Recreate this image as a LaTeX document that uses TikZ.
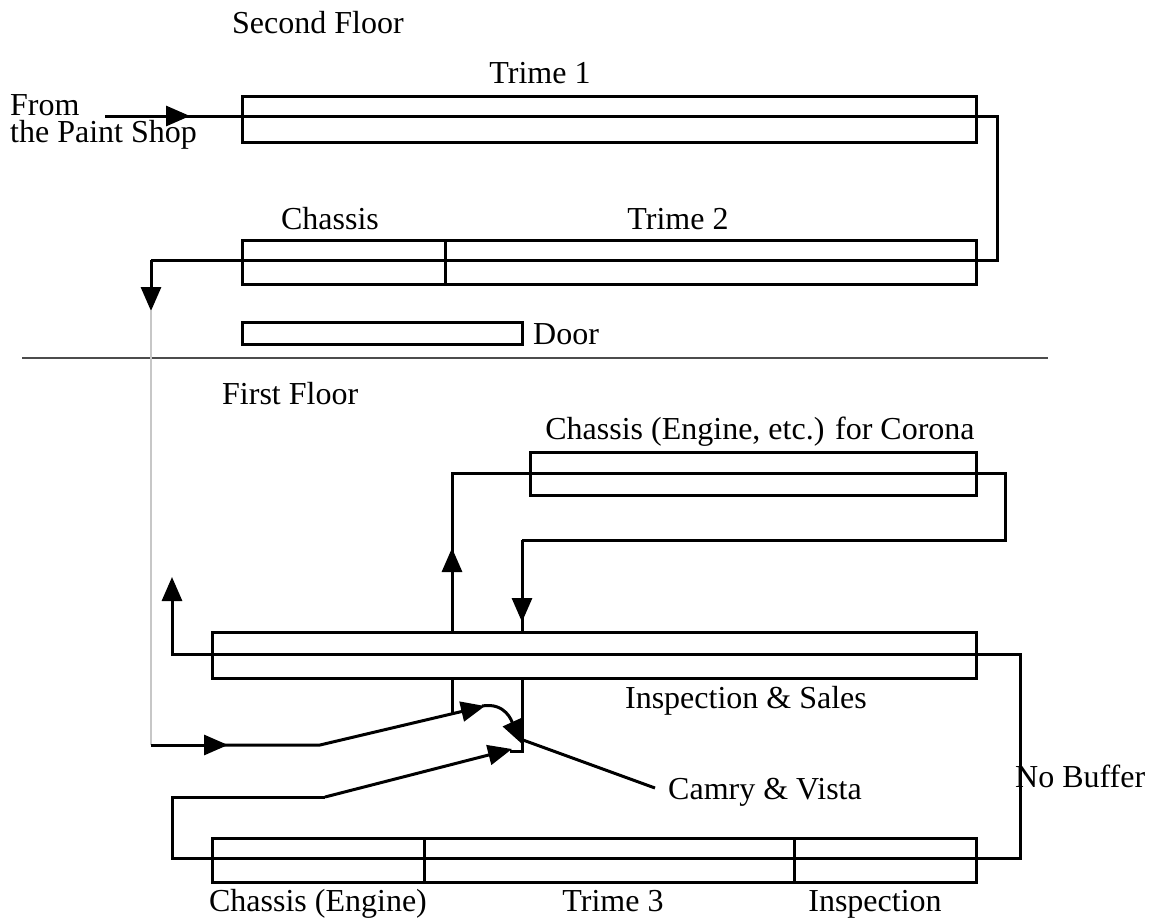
\documentclass[tikz,border=0pt]{standalone}
\usepackage{fontspec}
\setmainfont{Liberation Serif}
\usetikzlibrary{arrows.meta}
\begin{document}
\begin{tikzpicture}[x=1pt,y=-1pt,
  box/.style={draw,line width=2.5pt,inner sep=0pt,rectangle,anchor=north west,minimum height=44pt},
  flow/.style={line width=3pt},
  tip/.style={-{Triangle[length=24pt,width=20pt]}},
  lbl/.style={font=\fontsize{32}{37}\selectfont,inner sep=0pt}]
\useasboundingbox (0,0) rectangle (1160,921);
% boxes
\node[box,minimum width=734pt,minimum height=46pt] (trime1) at (241,95) {};
\node[box,minimum width=203pt] (chassis2) at (241,239) {};
\node[box,minimum width=531pt] (trime2) at (444,239) {};
\node[box,minimum width=280pt,minimum height=22pt] (door) at (241,321) {};
\node[box,minimum width=446pt,minimum height=43pt] (corona) at (529,451) {};
\node[box,minimum width=764pt,minimum height=46pt] (insp) at (211,631) {};
\node[box,minimum width=212pt] (chassisE) at (211,837) {};
\node[box,minimum width=370pt] (trime3) at (423,837) {};
\node[box,minimum width=182pt] (inspb) at (793,837) {};
% floor separator
\coordinate (sepL) at (22,358);
\coordinate (sepR) at (1048,358);
\draw[line width=2.2pt,color=black!70] (sepL) -- (sepR);
% labels
\node[lbl,anchor=base west] (l2f) at (232,33) {Second Floor};
\node[lbl,anchor=base] (lt1) at (540,83) {Trime 1};
\node[lbl,anchor=north west,align=left,font=\fontsize{32}{27}\selectfont] (lfrom) at (10,94) {From\\the Paint Shop};
\node[lbl,anchor=base] (lch) at (330,229) {Chassis};
\node[lbl,anchor=base] (lt2) at (678,229) {Trime 2};
\node[lbl,anchor=base west] (ldoor) at (533,344) {Door};
\node[lbl,anchor=base west] (l1f) at (222,404) {First Floor};
\node[lbl,anchor=base] (lcor) at (760,439) {Chassis (Engine, etc.) for Corona};
\node[lbl,anchor=base] (lis) at (746,708) {Inspection \& Sales};
\node[lbl,anchor=base west] (lnb) at (1015,787) {No Buffer};
\node[lbl,anchor=base west] (lcam) at (668,799) {Camry \& Vista};
\node[lbl,anchor=base] (lche) at (318,911) {Chassis (Engine)};
\node[lbl,anchor=base] (lt3) at (613,911) {Trime 3};
\node[lbl,anchor=base] (linsp) at (875,911) {Inspection};
% second floor flow
\draw[flow,tip] (105,116) -- (190,116);
\draw[flow] (186,116) -- (997,116) -- (997,260) -- (151,260);
\draw[flow,tip] (151,260) -- (151,311);
% gray drop between floors
\draw[line width=2.2pt,color=black!22] (151,311) -- (151,745);
% incoming from second floor
\draw[flow,tip] (151,745) -- (228,745);
\draw[flow,tip] (224,745) -- (320,745) -- (485,706);
\draw[flow,tip] (482,706) .. controls (506,702) and (512,722) .. (522,744);
% corona loop
\draw[flow,tip] (452,631) -- (452,548);
\draw[flow] (452,552) -- (452,473) -- (1005,473) -- (1005,540) -- (522,540);
\draw[flow,tip] (522,540) -- (522,622);
\draw[flow] (522,618) -- (522,631);
% stubs below inspection & sales
\draw[flow] (452,677) -- (452,714);
% main loop
\draw[flow,tip] (1020,654) -- (172,654) -- (172,577);
\draw[flow] (1018,654) -- (1020,654) -- (1020,858) -- (172,858) -- (172,797) -- (325,797);
\draw[flow,tip] (325,797) -- (512,749);
\draw[flow] (510,751) -- (522,751) -- (522,677);
% leader to label
\coordinate (camend) at (655,788);
\draw[flow] (523,740) -- (camend);
\end{tikzpicture}
\end{document}
